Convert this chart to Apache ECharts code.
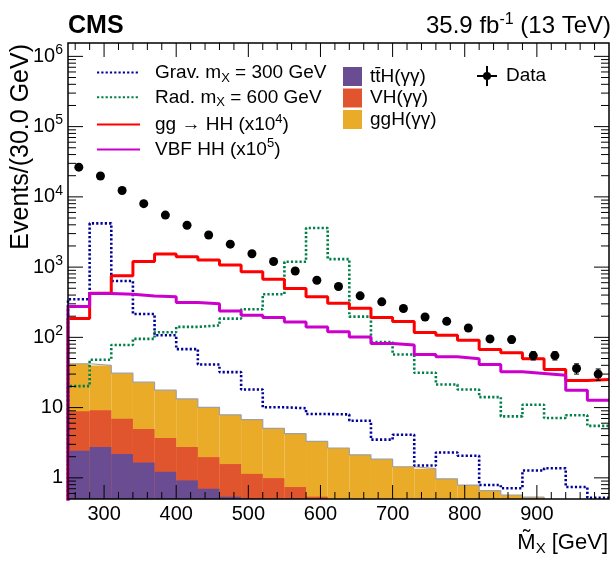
<!DOCTYPE html>
<html>
<head>
<meta charset="utf-8">
<script src="https://cdn.jsdelivr.net/npm/echarts@6/dist/echarts.min.js"></script>
<style>
html, body { margin: 0; padding: 0; background: #fff; }
#chart { width: 616px; height: 563px; }
</style>
</head>
<body>
<div id="chart"></div>
<script>
// 25 bins of 30 GeV, from 250 to 1000
const binLow = [250, 280, 310, 340, 370, 400, 430, 460, 490, 520, 550, 580, 610,
  640, 670, 700, 730, 760, 790, 820, 850, 880, 910, 940, 970]
const binWidth = 30

// data points and their error bars
const dataCounts = [26500, 19800, 12300, 8000, 5500, 3950, 2870, 2120, 1550, 1200, 880, 650, 530,
  390, 320, 258, 195, 169, 136, 95, 93, 55, 55, 36, 30]
const dataErrors = [163, 141, 111, 89, 74, 63, 54, 46, 39, 35, 30, 25, 23,
  20, 18, 16, 14, 13, 12, 10, 10, 7.4, 7.4, 6, 5.5]

// signal histograms
const gravValues = [349, 4200, 635, 215, 107, 68, 41, 32, 18.1, 10.1, 9.8, 8.1, 8.0,
  6.5, 3.5, 4.1, 1.5, 2.3, 2.06, 0.79, 0.71, 1.27, 1.37, 0.74, 0.52]
const radValues = [20.2, 48, 78, 95, 118, 141, 148, 185, 251, 411, 1190, 3600, 1300,
  197, 86, 57, 31.3, 21.3, 18.1, 14.1, 7.5, 11, 7.1, 7.8, 5.5]
const ggHHValues = [185, 425, 751, 1205, 1535, 1400, 1259, 1070, 857, 674, 496, 380, 306,
  259, 191, 168, 117, 107, 90.6, 67.4, 60.3, 49.6, 34.8, 24.3, 25.1]
const vbfHHValues = [274, 420, 411, 389, 377, 313, 302, 237, 207, 191, 166, 141, 120,
  101, 82, 77.6, 57.2, 52.9, 49.6, 41.1, 32.3, 30.6, 28.9, 17.7, 12.7]

// stacked single-Higgs backgrounds (height of each layer's top edge)
const ggHTop = [42.1, 39.8, 30.9, 23, 17.7, 13.3, 10.1, 7.9, 6.76, 5.06, 4.25, 3.3, 2.66,
  2.13, 1.85, 1.44, 1.35, 0.97, 0.79, 0.66, 0.57, 0.53, 0.45, 0.4, 0.35]
const vhTop = [8.9, 9.2, 6.96, 4.96, 3.69, 2.74, 1.97, 1.57, 1.14, 0.99, 0.74, 0.54, 0.48,
  0.4, 0.35, 0.3, 0.3, 0.3, 0.3, 0.3, 0.3, 0.3, 0.3, 0.3, 0.3]
const ttHTop = [2.43, 2.74, 2.18, 1.65, 1.22, 0.92, 0.70, 0.54, 0.51, 0.45, 0.4, 0.3, 0.3,
  0.3, 0.3, 0.3, 0.3, 0.3, 0.3, 0.3, 0.3, 0.3, 0.3, 0.3, 0.3]

const xTickLabels = [300, 400, 500, 600, 700, 800, 900]
const yTickLabels = [1, 10, 100, 1000, 10000, 100000, 1000000]

const xMin = 250
const xMax = 1000
const yMin = 0.5
const yMax = 1.55e6
const FONT = '"Liberation Sans", Arial, sans-serif'

const legendText = {
  grav: '{a|Grav. m}{sub|X}{a| = 300 GeV}',
  rad: '{a|Rad. m}{sub|X}{a| = 600 GeV}',
  gghh: '{a|gg \u2192 HH (x10}{sup|4}{a|)}',
  vbfhh: '{a|VBF HH (x10}{sup|5}{a|)}',
  tth: '{a|tt\u0304H(\u03b3\u03b3)}',
  vh: '{a|VH(\u03b3\u03b3)}',
  ggh: '{a|ggH(\u03b3\u03b3)}',
  data: '{a|Data}'
}

const richText = {
  a: { fontSize: 19, lineHeight: 24, fontFamily: FONT, color: '#000' },
  sub: { fontSize: 13, lineHeight: 13, verticalAlign: 'bottom', fontFamily: FONT, color: '#000' },
  sup: { fontSize: 13, lineHeight: 13, verticalAlign: 'top', fontFamily: FONT, color: '#000' }
}

// histogram line: start at the left edge from below the axis, one point per bin edge
function stepData(values) {
  const pts = [[binLow[0], 0.05]]
  values.forEach((v, i) => pts.push([binLow[i], v]))
  pts.push([binLow[values.length - 1] + binWidth, values[values.length - 1]])
  return pts
}

function binData(values) {
  return values.map((v, i) => [binLow[i], binLow[i] + binWidth, v])
}

function fillItem(params, api) {
  const v = api.value(2)
  if (!(v > yMin)) return null
  const p0 = api.coord([api.value(0), v])
  const p1 = api.coord([api.value(1), yMin])
  return {
    type: 'rect',
    shape: { x: p0[0], y: p0[1], width: p1[0] - p0[0], height: p1[1] - p0[1] },
    style: { fill: api.visual('color') }
  }
}

function seg(x1, y1, x2, y2) {
  return { type: 'line', shape: { x1, y1, x2, y2 }, style: { stroke: '#000', lineWidth: 1 } }
}

function histLine(name, values, color, dotted) {
  return {
    name: name,
    type: 'line',
    step: 'end',
    symbol: 'none',
    z: 4,
    data: stepData(values),
    lineStyle: { color: color, width: dotted ? 2.6 : 3, type: dotted ? [2.2, 2.1] : 'solid' },
    itemStyle: { color: color }
  }
}

function fillSeries(name, values, color) {
  return {
    name: name,
    type: 'custom',
    z: 2,
    data: binData(values),
    encode: { x: [0, 1], y: 2 },
    itemStyle: { color: color },
    renderItem: fillItem
  }
}

const chart = echarts.init(document.getElementById('chart'))

chart.setOption({
  animation: false,
  backgroundColor: '#fff',
  grid: { left: 68, right: 7, top: 43, bottom: 64 },
  xAxis: {
    type: 'value',
    min: xMin,
    max: xMax,
    interval: 50,
    axisLine: { show: false },
    axisTick: { show: false },
    splitLine: { show: false },
    axisLabel: {
      margin: 5,
      fontSize: 20,
      fontFamily: FONT,
      color: '#000',
      formatter: v => (xTickLabels.indexOf(v) >= 0 ? String(v) : '')
    }
  },
  yAxis: {
    type: 'log',
    logBase: 10,
    min: yMin,
    max: yMax,
    axisLine: { show: false },
    axisTick: { show: false },
    splitLine: { show: false },
    axisLabel: {
      margin: 5,
      fontSize: 20,
      lineHeight: 26,
      fontFamily: FONT,
      color: '#000',
      rich: { sup: { fontSize: 14, lineHeight: 14, verticalAlign: 'top', fontFamily: FONT, color: '#000' } },
      formatter: function (v) {
        const k = Math.round(Math.log10(v))
        if (Math.abs(Math.log10(v) - k) > 1e-6) return ''
        if (yTickLabels.indexOf(Math.pow(10, k)) < 0) return ''
        if (k === 0) return '1'
        if (k === 1) return '10'
        return '10{sup|' + k + '}'
      }
    }
  },
  legend: [
    {
      data: ['grav', 'rad', 'gghh', 'vbfhh'],
      orient: 'vertical',
      left: 91,
      top: 58,
      itemWidth: 43,
      itemHeight: 14,
      itemGap: 3.3,
      selectedMode: false,
      itemStyle: { opacity: 0 },
      formatter: n => legendText[n],
      textStyle: { padding: [0, 0, 0, 10], rich: richText }
    },
    {
      data: ['tth', 'vh', 'ggh'],
      orient: 'vertical',
      left: 338,
      top: 62,
      itemWidth: 19,
      itemHeight: 19,
      itemGap: 2.5,
      icon: 'rect',
      selectedMode: false,
      formatter: n => legendText[n],
      textStyle: { padding: [0, 0, 0, 3], rich: richText }
    },
    {
      data: [{ name: 'data', icon: 'path://M9,0h2v20h-2z M0,9h20v2h-20z M14,10A4,4 0 1 1 6,10A4,4 0 1 1 14,10z' }],
      left: 472,
      top: 61,
      itemWidth: 20,
      itemHeight: 20,
      selectedMode: false,
      formatter: n => legendText[n],
      textStyle: { padding: [0, 0, 0, 4], rich: richText }
    }
  ],
  graphic: [
    {
      type: 'text', left: 68, top: 14,
      style: { text: 'CMS', font: 'bold 25px ' + FONT, fill: '#000' }
    },
    {
      type: 'text', right: 5, top: 12,
      style: {
        text: '{a|35.9 fb}{sup|-1}{a| (13 TeV)}',
        rich: {
          a: { fontSize: 24, lineHeight: 28, fontFamily: FONT, color: '#000' },
          sup: { fontSize: 16, lineHeight: 16, verticalAlign: 'top', fontFamily: FONT, color: '#000' }
        }
      }
    },
    {
      type: 'text', x: 21, y: 44, rotation: Math.PI / 2,
      style: { text: 'Events/(30.0 GeV)', font: '25px ' + FONT, fill: '#000', align: 'right', verticalAlign: 'middle' }
    },
    {
      type: 'text', right: 8, top: 532,
      style: {
        text: '{a|M\u0303}{sub|X}{a| [GeV]}',
        rich: {
          a: { fontSize: 22, lineHeight: 26, fontFamily: FONT, color: '#000' },
          sub: { fontSize: 15, lineHeight: 15, verticalAlign: 'bottom', fontFamily: FONT, color: '#000' }
        }
      }
    }
  ],
  series: [
    fillSeries('ggh', ggHTop, '#e9ab28'),
    fillSeries('vh', vhTop, '#e0542e'),
    fillSeries('tth', ttHTop, '#6a4c93'),
    {
      name: 'bkgOutline',
      type: 'line',
      step: 'end',
      symbol: 'none',
      z: 3,
      data: stepData(ggHTop),
      lineStyle: { color: '#a0a0a0', width: 1.2 }
    },
    histLine('grav', gravValues, '#00009a', true),
    histLine('rad', radValues, '#008048', true),
    histLine('gghh', ggHHValues, '#ff0000', false),
    histLine('vbfhh', vbfHHValues, '#cc00cc', false),
    {
      name: 'dataErr',
      type: 'custom',
      z: 6,
      data: dataCounts.map((v, i) => [binLow[i] + binWidth / 2, v - dataErrors[i], v + dataErrors[i]]),
      encode: { x: 0, y: [1, 2] },
      renderItem: function (params, api) {
        const lo = api.coord([api.value(0), api.value(1)])
        const hi = api.coord([api.value(0), api.value(2)])
        return {
          type: 'group',
          children: [
            seg(lo[0], lo[1], hi[0], hi[1]),
            seg(lo[0] - 2.5, lo[1], lo[0] + 2.5, lo[1]),
            seg(hi[0] - 2.5, hi[1], hi[0] + 2.5, hi[1])
          ]
        }
      }
    },
    {
      name: 'data',
      type: 'scatter',
      z: 7,
      symbol: 'circle',
      symbolSize: 9,
      itemStyle: { color: '#000', opacity: 1 },
      data: dataCounts.map((v, i) => [binLow[i] + binWidth / 2, v])
    },
    {
      // frame and ROOT style ticks on all four sides
      name: 'frame',
      type: 'custom',
      silent: true,
      z: 10,
      data: [[xMin, yMin]],
      renderItem: function (params, api) {
        const bl = api.coord([xMin, yMin])
        const tr = api.coord([xMax, yMax])
        const kids = [{
          type: 'rect',
          shape: { x: bl[0], y: tr[1], width: tr[0] - bl[0], height: bl[1] - tr[1] },
          style: { fill: 'none', stroke: '#000', lineWidth: 1.5 }
        }]
        for (let v = 260; v < xMax; v += 20) {
          const x = api.coord([v, yMin])[0]
          const len = v % 100 === 0 ? 14 : 7
          kids.push(seg(x, bl[1], x, bl[1] - len), seg(x, tr[1], x, tr[1] + len))
        }
        for (let k = -1; k <= 6; k++) {
          for (let m = 1; m <= 9; m++) {
            const v = m * Math.pow(10, k)
            if (v <= yMin || v >= yMax) continue
            const y = api.coord([xMin, v])[1]
            const len = m === 1 ? 15 : 8
            kids.push(seg(bl[0], y, bl[0] + len, y), seg(tr[0], y, tr[0] - len, y))
          }
        }
        return { type: 'group', children: kids }
      }
    }
  ]
})
</script>
</body>
</html>
